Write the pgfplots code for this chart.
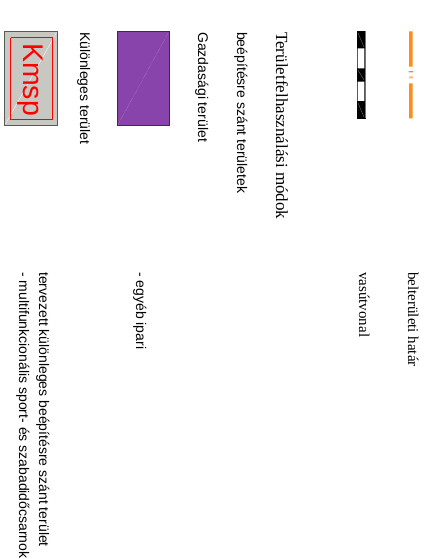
\documentclass[border=0pt]{standalone}
\usepackage{pgfplots}
\pgfplotsset{compat=1.18}
\usepackage{fontspec}
\setmainfont{Liberation Serif}
\setsansfont{Liberation Sans}
\definecolor{boxgray}{HTML}{C8C8C2}
\definecolor{purp}{HTML}{8844AA}
\definecolor{orng}{HTML}{FF8C1A}
\begin{document}
\begin{tikzpicture}
\begin{axis}[scale only axis, width=432bp, height=559bp,
  xmin=0, xmax=432, ymin=0, ymax=559, y dir=reverse,
  hide axis, clip=false]
% background
\addplot[fill=white, draw=none] coordinates {(0,0) (432,0) (432,559) (0,559) (0,0)};
% Kmsp box
\addplot[fill=boxgray, draw=black!65, line width=0.8bp] coordinates {(4.5,31.5) (57.5,31.5) (57.5,125) (4.5,125) (4.5,31.5)};
\addplot[draw=white, line width=0.3bp] coordinates {(5.5,124) (56.5,32.5)};
\addplot[draw=red, line width=1bp] coordinates {(10.7,38) (52.5,38) (52.5,119.5) (10.7,119.5) (10.7,38)};
% purple
\addplot[fill=purp, draw=black!80, line width=0.8bp] coordinates {(117.3,31.5) (169.3,31.5) (169.3,125.5) (117.3,125.5) (117.3,31.5)};
\addplot[draw=white!70!purp, line width=0.3bp, densely dotted] coordinates {(118,124.5) (168.5,32.5)};
% railway
\addplot[fill=black, draw=black, line width=0.6bp] coordinates {(357,31.5) (365,31.5) (365,118) (357,118) (357,31.5)};
\addplot[fill=white, draw=none] coordinates {(357.6,48.3) (364.4,48.3) (364.4,68.3) (357.6,68.3) (357.6,48.3)};
\addplot[fill=white, draw=none] coordinates {(357.6,81.7) (364.4,81.7) (364.4,101) (357.6,101) (357.6,81.7)};
\addplot[draw=black!55, line width=0.5bp] coordinates {(365.6,31.5) (365.6,118.5)};
\addplot[draw=black!50, line width=0.3bp] coordinates {(358,33) (364,47)};
\addplot[draw=black!50, line width=0.3bp] coordinates {(358,70) (364,80)};
\addplot[draw=black!50, line width=0.3bp] coordinates {(358,103) (364,117)};
% orange boundary
\addplot[fill=orng, draw=none] coordinates {(409,31.5) (412.7,31.5) (412.7,66.7) (409,66.7) (409,31.5)};
\addplot[fill=orng, draw=none] coordinates {(408.5,71.2) (413,71.2) (413,72.5) (408.5,72.5) (408.5,71.2)};
\addplot[fill=orng!60, draw=none] coordinates {(409,76.3) (413,76.3) (413,78.3) (409,78.3) (409,76.3)};
\addplot[fill=orng, draw=none] coordinates {(409,83.3) (412.7,83.3) (412.7,118.3) (409,118.3) (409,83.3)};
% texts
\node[rotate=-90, anchor=base west, inner sep=0pt, text=red, font=\sffamily\fontsize{28.5bp}{30bp}\selectfont] at (axis cs:23.5,43) {Kmsp};
\node[rotate=-90, anchor=base west, inner sep=0pt, font=\sffamily\fontsize{14bp}{16bp}\selectfont] at (axis cs:80,32) {Különleges terület};
\node[rotate=-90, anchor=base west, inner sep=0pt, font=\sffamily\fontsize{14bp}{16bp}\selectfont] at (axis cs:198,32) {Gazdasági terület};
\node[rotate=-90, anchor=base west, inner sep=0pt, font=\sffamily\fontsize{14bp}{16bp}\selectfont] at (axis cs:237,32) {beépítésre szánt területek};
\node[rotate=-90, anchor=base west, inner sep=0pt, font=\rmfamily\fontsize{17bp}{19bp}\selectfont] at (axis cs:276,32) {Területfelhasználási módok};
\node[rotate=-90, anchor=base west, inner sep=0pt, font=\rmfamily\fontsize{15bp}{17bp}\selectfont] at (axis cs:359,272) {vasútvonal};
\node[rotate=-90, anchor=base west, inner sep=0pt, font=\rmfamily\fontsize{15bp}{17bp}\selectfont] at (axis cs:408,272) {belterületi határ};
\node[rotate=-90, anchor=base west, inner sep=0pt, font=\sffamily\fontsize{14bp}{16bp}\selectfont] at (axis cs:136,272) {- egyéb ipari};
\node[rotate=-90, anchor=base west, inner sep=0pt, font=\sffamily\fontsize{14bp}{16bp}\selectfont] at (axis cs:39,272) {tervezett különleges beépítésre szánt terület};
\node[rotate=-90, anchor=base west, inner sep=0pt, font=\sffamily\fontsize{14bp}{16bp}\selectfont] at (axis cs:19,272) {- multifunkcionális sport- és szabadidőcsarnok};
\end{axis}
\end{tikzpicture}
\end{document}
